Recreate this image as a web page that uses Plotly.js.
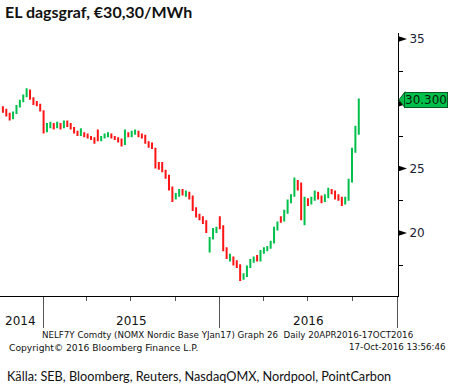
<!DOCTYPE html>
<html>
<head>
<meta charset="utf-8">
<script src="https://cdn.plot.ly/plotly-3.0.1.min.js"></script>
<style>html,body{margin:0;padding:0;background:#fff;}#chart{width:456px;height:385px;}</style>
</head>
<body>
<div id="chart"></div>
<script>
var dates = [
"2014-10-10","2014-10-17","2014-10-24","2014-10-31","2014-11-07","2014-11-14","2014-11-21","2014-11-28","2014-12-05","2014-12-12","2014-12-19","2014-12-26",
"2015-01-02","2015-01-09","2015-01-16","2015-01-23","2015-01-30","2015-02-06","2015-02-13","2015-02-20","2015-02-27","2015-03-06","2015-03-13","2015-03-20","2015-03-27",
"2015-04-03","2015-04-10","2015-04-17","2015-04-24","2015-05-01","2015-05-08","2015-05-15","2015-05-22","2015-05-29","2015-06-05","2015-06-12","2015-06-19","2015-06-26",
"2015-07-03","2015-07-10","2015-07-17","2015-07-24","2015-07-31","2015-08-07","2015-08-14","2015-08-21","2015-08-28","2015-09-04","2015-09-11","2015-09-18","2015-09-25",
"2015-10-02","2015-10-09","2015-10-16","2015-10-23","2015-10-30","2015-11-06","2015-11-13","2015-11-20","2015-11-27","2015-12-04","2015-12-11","2015-12-18","2015-12-25",
"2016-01-01","2016-01-08","2016-01-15","2016-01-22","2016-01-29","2016-02-05","2016-02-12","2016-02-19","2016-02-26","2016-03-04","2016-03-11","2016-03-18","2016-03-25",
"2016-04-01","2016-04-08","2016-04-15","2016-04-22","2016-04-29","2016-05-06","2016-05-13","2016-05-20","2016-05-27","2016-06-03","2016-06-10","2016-06-17","2016-06-24",
"2016-07-01","2016-07-08","2016-07-15","2016-07-22","2016-07-29","2016-08-05","2016-08-12","2016-08-19","2016-08-26","2016-09-02","2016-09-09","2016-09-16","2016-09-23",
"2016-09-30","2016-10-07","2016-10-14"
];
var openV = [29.7,29.5,29.2,28.9,29.3,29.8,30.2,30.6,31.0,30.4,30.0,29.9,
29.4,27.9,28.3,28.4,28.2,28.4,28.2,28.5,28.4,28.1,27.8,27.6,27.7,
27.6,27.4,27.3,27.8,27.3,27.4,27.5,27.6,27.4,27.3,27.2,26.9,27.6,
27.5,27.7,27.8,27.6,27.5,27.0,26.8,26.5,25.3,25.3,24.8,24.4,23.5,
22.8,22.9,23.3,23.0,23.1,22.8,21.9,21.4,21.2,20.9,19.0,19.6,20.2,
21.2,20.5,18.8,17.9,18.1,17.7,17.5,16.5,16.7,17.4,17.9,18.1,17.9,
18.6,18.7,18.9,19.3,20.3,21.2,21.0,21.6,22.4,22.9,24.0,23.5,22.0,
22.5,22.3,22.6,23.1,22.8,22.5,22.8,23.3,23.2,22.8,22.7,22.4,22.6,
24.0,26.4,27.9];
var highV = [29.8,29.6,29.3,29.4,29.9,30.3,30.7,31.2,31.1,30.5,30.2,30.0,
29.5,28.5,28.6,28.5,28.6,28.5,28.7,28.7,28.5,28.2,27.9,28.1,27.8,
27.7,27.5,27.4,28.0,27.5,27.7,27.8,27.7,27.5,27.4,27.3,28.0,27.8,
27.9,28.0,27.9,27.7,27.6,27.1,27.0,26.6,25.5,25.5,24.9,24.5,23.6,
23.1,23.4,23.4,23.3,23.2,22.9,22.0,21.5,21.3,21.0,19.7,20.4,20.5,
21.3,20.6,18.9,18.4,18.2,17.9,17.6,16.9,17.5,18.0,18.2,18.3,18.7,
18.9,19.0,19.4,20.5,20.9,21.3,21.8,22.6,23.0,24.3,24.1,23.9,22.8,
22.7,22.8,23.3,23.2,22.9,23.0,23.5,23.4,23.3,23.0,22.8,22.8,24.2,
26.6,28.3,30.4];
var lowV = [29.3,29.0,28.7,28.8,29.2,29.7,30.1,30.5,30.3,29.9,29.8,29.4,
27.7,27.8,28.1,28.0,28.1,28.0,28.1,28.2,28.0,27.7,27.5,27.5,27.4,
27.3,27.2,26.9,27.1,27.1,27.3,27.4,27.3,27.2,27.0,26.7,26.8,27.4,
27.4,27.6,27.4,27.3,26.9,26.6,26.5,25.0,24.9,24.7,24.2,23.3,22.4,
22.6,22.8,22.9,22.8,22.6,21.7,21.2,21.0,20.7,20.0,18.5,19.5,20.0,
20.3,18.6,18.0,17.8,17.5,17.3,16.3,16.4,16.6,17.3,17.7,17.8,17.8,
18.4,18.6,18.8,19.2,20.2,20.8,20.9,21.5,22.3,22.8,23.3,21.0,20.6,
22.1,22.2,22.5,22.6,22.3,22.4,22.7,23.0,22.6,22.5,22.1,22.2,22.5,
23.9,26.2,27.6];
var closeV = [29.5,29.2,28.9,29.3,29.8,30.2,30.6,31.0,30.4,30.0,29.9,29.6,
27.9,28.3,28.4,28.2,28.4,28.2,28.5,28.4,28.1,27.8,27.6,27.7,27.6,
27.4,27.3,27.0,27.3,27.4,27.5,27.6,27.4,27.3,27.2,26.9,27.6,27.5,
27.7,27.8,27.6,27.5,27.0,26.8,26.7,25.3,25.1,24.8,24.4,23.5,22.8,
22.9,23.3,23.0,23.1,22.8,21.9,21.4,21.2,20.9,20.1,19.6,20.2,20.4,
20.5,18.8,18.2,18.1,17.7,17.5,16.5,16.7,17.4,17.9,18.1,17.9,18.6,
18.7,18.9,19.3,20.3,20.8,21.0,21.6,22.4,22.9,24.0,23.5,22.0,22.5,
22.3,22.6,23.1,22.8,22.5,22.8,23.3,23.2,22.8,22.7,22.4,22.6,24.0,
26.4,27.8,30.3];

var yTickVals = [20, 25, 30, 35];
var yTickText = ["20", "25", "", "35"];
var yearLabels = ["2014", "2015", "2016"];
var yearLabelDates = ["2014-11-16", "2015-07-02", "2016-07-02"];
var lastPrice = "30.300";
var lastValue = 30.3;

var trace = {
  type: "ohlc",
  x: dates, open: openV, high: highV, low: lowV, close: closeV,
  increasing: {line: {color: "#00c04b", width: 2}},
  decreasing: {line: {color: "#ff1414", width: 2}},
  tickwidth: 0.2,
  hoverinfo: "skip",
  showlegend: false
};

var shapes = yTickVals.map(function(v){
  return {type: "path", xref: "paper", yref: "y", xsizemode: "pixel", ysizemode: "pixel",
    xanchor: 1, yanchor: v, path: "M 0 3 L 9 0 L 0 -3 Z",
    fillcolor: "#000", line: {width: 0}, layer: "above"};
});
shapes.push({type: "path", xref: "paper", yref: "y", xsizemode: "pixel", ysizemode: "pixel",
  xanchor: 1, yanchor: lastValue, path: "M 1 0 L 7 8 L 7 -8 Z",
  fillcolor: "#00c04b", line: {color: "#0a5a25", width: 1}, layer: "above"});

var annotations = yearLabels.map(function(t, i){
  return {text: t, xref: "x", yref: "paper", x: yearLabelDates[i], y: 0, yanchor: "middle",
    yshift: -25, showarrow: false, font: {family: "DejaVu Sans", size: 12, color: "#111"}};
});
annotations.push({text: lastPrice, xref: "paper", yref: "y", x: 1, y: lastValue, xanchor: "left",
  xshift: 6, yanchor: "middle", showarrow: false, bgcolor: "#00c04b", bordercolor: "#0a5a25",
  borderwidth: 1, borderpad: 0, font: {family: "DejaVu Sans", size: 12, color: "#0a1a0a"}});
annotations.push({text: "NELF7Y Comdty (NOMX Nordic Base YJan17) Graph 26  Daily 20APR2016-17OCT2016",
  xref: "paper", yref: "paper", x: 40/398, y: -0.148, xanchor: "left", yanchor: "middle", showarrow: false,
  font: {family: "DejaVu Sans", size: 8.7, color: "#111"}});
annotations.push({text: "Copyright© 2016 Bloomberg Finance L.P.",
  xref: "paper", yref: "paper", x: 7/398, y: -0.194, xanchor: "left", yanchor: "middle", showarrow: false,
  font: {family: "DejaVu Sans", size: 9.2, color: "#111"}});
annotations.push({text: "17-Oct-2016 13:56:46",
  xref: "paper", yref: "paper", x: 447/398, y: -0.194, xanchor: "right", yanchor: "middle", showarrow: false,
  font: {family: "DejaVu Sans", size: 8.7, color: "#111"}});
annotations.push({text: "Källa: SEB, Bloomberg, Reuters, NasdaqOMX, Nordpool, PointCarbon",
  xref: "paper", yref: "paper", x: 5/398, y: -0.304, xanchor: "left", yanchor: "middle", showarrow: false,
  font: {family: "Lato", size: 12.7, color: "#111"}});

var layout = {
  width: 456, height: 385,
  margin: {l: 0, r: 58, t: 33, b: 89},
  paper_bgcolor: "#fff", plot_bgcolor: "#fff",
  title: {text: "<b>EL dagsgraf, €30,30/MWh</b>", xref: "container", yref: "container",
    x: 5/456, xanchor: "left", y: 1 - 12/385, yanchor: "middle",
    font: {family: "Lato", size: 16, color: "#111"}},
  xaxis: {type: "date", range: ["2014-10-04", "2017-01-03"], rangeslider: {visible: false},
    showgrid: false, zeroline: false, showline: true, linecolor: "#000", linewidth: 1,
    ticks: "outside", tick0: "2015-01-01", dtick: "M12", ticklen: 31, tickcolor: "#555", tickwidth: 1,
    showticklabels: false,
    minor: {ticks: "outside", dtick: "M3", tick0: "2015-01-01", ticklen: 4, tickcolor: "#555", showgrid: false}},
  yaxis: {side: "right", range: [15.14, 35.46], showgrid: false, zeroline: false,
    showline: true, linecolor: "#000", linewidth: 1,
    tickmode: "array", tickvals: yTickVals, ticktext: yTickText,
    ticks: "outside", ticklen: 8, tickcolor: "rgba(0,0,0,0)",
    tickfont: {family: "DejaVu Sans", size: 12, color: "#1a1a33"},
    minor: {ticks: "outside", dtick: 2.5, tick0: 0, ticklen: 4, tickcolor: "#000", showgrid: false}},
  shapes: shapes,
  annotations: annotations,
  showlegend: false
};

Plotly.newPlot("chart", [trace], layout, {displayModeBar: false, staticPlot: true});
</script>
</body>
</html>
